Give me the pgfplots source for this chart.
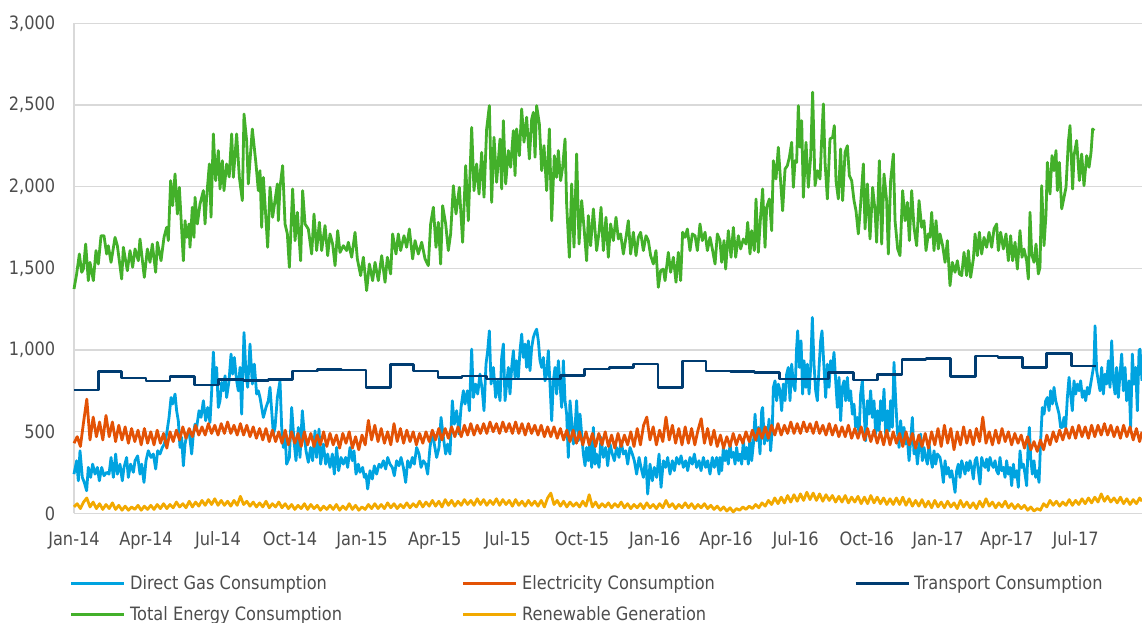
\documentclass[border=0pt]{standalone}
\usepackage{fontspec}
\setmainfont{DejaVu Sans}[FakeStretch=0.88]
\usepackage{pgfplots}
\pgfplotsset{compat=1.18}
\definecolor{gasblue}{HTML}{00A3E0}
\definecolor{elecorange}{HTML}{E35205}
\definecolor{navy}{HTML}{003C71}
\definecolor{totgreen}{HTML}{43B02A}
\definecolor{amber}{HTML}{F2A900}
\definecolor{textgray}{HTML}{4D4D4D}
\definecolor{gridgray}{HTML}{D9D9D9}
\newcommand\chartfont{\fontsize{13.8pt}{16pt}\selectfont}
\newcommand\legtext[1]{\makebox[249pt][l]{\rule[-3.5pt]{0pt}{14pt}#1}}
\begin{document}
\begin{tikzpicture}
\path[use as bounding box] (-55.5pt,-82.125pt) rectangle (801pt,385.125pt);
\begin{axis}[
  at={(0,0)}, anchor=south west,
  scale only axis, width=801pt, height=367.65pt,
  xmin=0, xmax=1335, ymin=0, ymax=3000,
  clip=false,
  axis lines=left,
  axis line style={draw=gridgray, line width=1pt, -},
  ymajorgrids, grid style={draw=gridgray, line width=1pt},
  major tick length=0pt,
  ytick={0,500,1000,1500,2000,2500,3000},
  yticklabels={0,500,{1,000},{1,500},{2,000},{2,500},{3,000}},
  xtick={0,90,180,270,360,451,542,635,726,815,902,991,1080,1166,1252},
  xticklabels={Jan-14,Apr-14,Jul-14,Oct-14,Jan-15,Apr-15,Jul-15,Oct-15,Jan-16,Apr-16,Jul-16,Oct-16,Jan-17,Apr-17,Jul-17},
  every tick label/.append style={font=\chartfont, text=textgray, inner sep=0pt},
  xticklabel style={anchor=north, yshift=-13.6pt},
  yticklabel style={anchor=east, xshift=-13.9pt},
  every axis plot/.append style={line width=2.1pt, line join=round, no markers},
  legend columns=3,
  legend cell align=left,
  legend image code/.code={\draw[#1] (0pt,0pt) -- (39.75pt,0pt);},
  legend style={at={(axis description cs:0,0)}, anchor=north west, xshift=-3pt, yshift=-46.35pt,
    draw=none, fill=none, inner sep=0pt, outer sep=0pt, row sep=11.6pt,
    font=\chartfont, text=textgray, nodes={inner sep=0pt},
    /tikz/every odd column/.append style={column sep=3.2pt}},
]
% Direct Gas Consumption
\addplot[gasblue] coordinates {
(0,241)(3.3,323)(5.4,200)(7.5,384)(10.4,221)(12.9,190)(15.8,139)(17.9,282)(20.8,221)(23.3,302)(26.3,241)(29.2,282)(31.7,200)(34.6,282)(37.5,231)(40.8,252)(43.8,241)(46.3,343)(49.2,221)(52.1,364)(54.2,241)(57.5,302)(60.4,200)(62.5,282)(65.8,343)(67.9,221)(70.8,302)(74.2,252)(76.3,323)(79.6,353)(82.5,241)(84.6,302)(87.5,190)(90,323)(92.9,384)(96.3,343)(99.2,364)(102.1,272)(104.6,384)(107.5,364)(110.4,404)(112.9,425)(115.8,486)(118.8,588)(121.3,710)(123.3,670)(126.3,731)(128.3,629)(130.4,568)(132.5,404)(134.6,466)(136.7,292)(138.8,425)(140.8,476)(143.8,506)(147.1,364)(149.2,486)(151.3,547)(153.3,527)(156.3,629)(158.8,588)(161.7,690)(164.6,568)(167.1,649)(170,557)(172.1,751)(174.2,988)(176.3,792)(178.3,894)(180.4,649)(182.5,690)(184.6,802)(186.7,751)(188.8,843)(190.8,710)(193.8,812)(196.3,976)(198.3,853)(200.4,955)(203.3,812)(205.4,751)(207.5,894)(209.6,608)(212.5,1108)(215,853)(217.1,772)(220,1037)(222.9,792)(225.4,914)(228.3,731)(230.4,751)(232.5,710)(234.6,649)(236.7,588)(240,649)(242.9,690)(245,772)(247.1,629)(249.2,486)(251.3,527)(254.2,710)(257.5,812)
(259.6,527)(261.7,404)(263.8,486)(265.8,302)(269.2,343)(272.1,649)(275,445)(277.5,323)(280.4,527)(282.5,343)(285.4,629)(287.5,506)(290,384)(292.9,313)(295.8,404)(298.3,323)(301.3,506)(303.3,343)(306.3,517)(308.3,302)(311.7,425)(314.6,302)(317.1,364)(320,282)(322.9,364)(325.4,241)(328.3,404)(330.8,262)(333.8,343)(336.7,302)(339.6,343)(342.1,282)(345,404)(347.9,323)(350,384)(352.5,241)(355.4,302)(357.5,252)(360.8,282)(362.9,221)(365,241)(367.1,150)(370,262)(372.9,211)(375.4,292)(378.3,241)(381.3,302)(383.8,282)(386.7,323)(389.6,272)(392.1,343)(395,302)(397.9,282)(400.4,231)(403.3,323)(406.3,292)(408.8,343)(411.7,282)(414.6,190)(417.1,323)(420,282)(422.9,343)(425.4,302)(428.3,404)(431.3,364)(433.8,282)(436.7,323)(439.6,302)(442.1,241)(445,404)(447.9,506)(450.4,425)(453.3,343)(456.3,404)(458.8,588)(461.7,466)(464.6,364)(467.1,425)(470,364)(472.9,690)(475.4,547)(478.3,629)(481.3,486)(483.8,649)(486.7,751)(488.8,670)(491.7,751)(494.2,629)(497.1,1006)(499.2,710)(502.1,792)(504.6,731)(507.5,853)(510.4,751)(512.5,629)(515,914)(517.1,996)(519.2,1118)(521.3,792)(524.2,894)(527.1,710)(529.6,812)(532.5,690)
(534.6,955)(536.7,1037)(538.8,690)(540.8,792)(542.9,894)(545,731)(547.1,894)(549.2,996)(551.3,833)(553.3,935)(555.4,833)(557.5,996)(559.6,1098)(561.7,955)(563.8,1037)(565.8,894)(567.9,1057)(570,874)(572.1,1016)(574.2,1078)(576.3,1108)(578.3,1128)(580.4,1057)(582.5,935)(584.6,894)(586.7,955)(588.8,812)(590.8,853)(592.9,996)(595,792)(597.1,568)(599.2,812)(601.3,894)(603.3,731)(605.4,935)(607.5,792)(609.6,649)(611.7,935)(613.8,690)(615.8,608)(617.9,343)(620,690)(622.1,568)(624.2,425)(626.3,527)(628.3,690)(630.4,445)(632.5,608)(634.6,486)(636.7,364)(638.8,292)(640.8,404)(642.9,323)(645,445)(647.1,282)(649.2,527)(651.3,302)(653.3,364)(656.3,282)(658.8,466)(661.7,343)(664.6,404)(667.1,292)(670,425)(672.9,364)(675.4,323)(678.3,404)(681.3,343)(683.8,445)(686.7,364)(689.6,384)(692.1,302)(695,404)(697.9,364)(700.4,323)(703.3,241)(706.3,343)(708.8,282)(711.7,221)(714.6,343)(717.1,119)(720,302)(722.9,200)(725.4,282)(728.3,221)(731.3,364)(733.8,160)(736.7,323)(739.6,282)(742.1,343)(745,241)(747.9,323)(750.4,262)(753.3,343)(756.3,302)(758.8,353)(761.7,282)(764.6,323)(767.1,262)(770,343)(772.9,302)(775.4,364)(778.3,282)(781.3,323)(783.8,262)(786.7,343)(789.6,282)(792.1,323)(795,241)(797.9,343)(800.4,282)(803.3,343)(806.3,241)
(807.5,343)(809.6,262)(811.7,404)(813.8,323)(815.8,384)(817.9,302)(820,425)(822.1,343)(824.2,374)(826.3,302)(828.3,404)(830.4,323)(832.5,364)(834.6,302)(836.7,445)(838.8,333)(840.8,404)(842.9,302)(845,466)(847.1,323)(849.2,425)(851.3,608)(853.3,445)(855.4,527)(857.5,364)(859.6,629)(860.8,649)(862.9,425)(865,527)(866.7,445)(868.8,578)(870.8,384)(872.9,527)(874.2,772)(876.3,812)(878.3,690)(880.4,792)(882.5,751)(884.6,629)(886.7,792)(888.8,690)(890.8,853)(892.9,894)(895,690)(897.1,914)(899.2,792)(901.3,751)(903.3,1016)(904.6,1118)(906.7,894)(908.8,1057)(910.8,731)(912.5,935)(915,772)(916.7,914)(918.8,731)(920.8,894)(922.9,1200)(925,914)(927.1,751)(929.2,690)(931.3,894)(933.3,1057)(935,1118)(937.5,894)(939.6,710)(941.7,914)(943.8,772)(945.8,935)(947.9,874)(950,986)(952.1,812)(954.2,649)(956.3,833)(958.3,568)(960.4,772)(962.5,812)(964.6,690)(966.7,833)(968.8,690)(970.8,751)(972.9,608)(975,670)(977.1,527)(979.2,588)(981.3,486)(983.3,731)(985.4,812)(987.5,629)(989.6,445)(991.7,690)(993.8,608)(995.8,751)(997.9,588)(1000,690)(1002.1,486)(1004.2,629)(1006.3,506)(1008.3,690)(1010.4,568)(1012.5,761)(1014.6,486)(1016.7,629)(1018.8,506)(1020.8,690)(1022.9,527)(1025,925)(1027.1,690)(1029.2,506)(1031.3,404)(1033.3,568)(1035.4,445)(1037.5,527)(1039.6,425)(1041.7,466)(1043.8,323)(1045.8,445)(1047.9,588)(1050,364)(1052.1,425)(1054.2,302)(1056.3,404)(1058.3,486)(1060.4,323)(1062.5,404)(1064.6,343)(1066.7,302)(1068.8,425)(1070.8,343)(1072.9,282)(1075,384)(1077.1,302)(1079.2,364)
(1082.5,343)(1084.6,282)(1086.7,190)(1088.8,323)(1090.8,241)(1092.9,282)(1095,221)(1097.1,262)(1099.2,200)(1101.3,129)(1103.3,262)(1105.4,302)(1107.5,221)(1109.6,323)(1111.7,282)(1113.8,241)(1115.8,313)(1117.9,262)(1120,323)(1122.1,282)(1124.2,211)(1126.3,323)(1128.3,343)(1130.4,262)(1132.5,180)(1134.6,343)(1136.7,302)(1138.8,282)(1140.8,333)(1142.9,262)(1145,343)(1147.1,302)(1149.2,282)(1151.3,323)(1153.3,262)(1155.4,241)(1157.5,343)(1159.6,262)(1161.7,282)(1163.8,221)(1165.8,323)(1167.9,241)(1170,282)(1172.1,170)(1174.2,302)(1176.3,221)(1178.3,262)(1180.4,160)(1182.5,384)(1184.6,282)(1186.7,302)(1188.8,241)(1190.8,170)(1192.9,445)(1194.2,527)(1195.8,343)(1197.9,241)(1200,323)(1202.1,221)(1204.2,262)(1206.3,190)(1208.3,445)(1210.4,649)(1212.5,608)(1214.6,690)(1216.7,710)(1218.8,629)(1220.8,751)(1222.9,670)(1225,772)(1227.1,690)(1229.2,649)(1231.3,608)(1233.3,527)(1235.4,527)(1237.5,588)(1239.6,527)(1241.7,710)(1243.8,833)(1245.8,731)(1247.9,629)(1250,812)(1252.1,731)(1254.2,792)(1256.3,751)(1258.3,812)(1260.4,710)(1262.5,751)(1264.6,690)(1266.7,772)(1268.8,731)(1270.8,792)(1272.9,853)(1275,914)(1276.3,1149)(1278.3,874)(1280.4,812)(1282.5,751)(1284.6,894)(1286.7,731)(1288.8,853)(1290.8,792)(1292.9,935)(1295,772)(1297.1,1057)(1299.2,812)(1301.3,731)(1303.3,894)(1305.4,710)(1307.5,853)(1309.6,976)(1311.7,751)(1313.8,894)(1315.8,690)(1318.8,812)(1320.8,527)(1322.9,976)(1325,792)(1327.1,894)(1329.2,629)(1331.3,996)(1332.5,1006)(1335,812)
};
\addlegendentry{\legtext{Direct Gas Consumption}}
% Electricity Consumption
\addplot[elecorange] coordinates {
(0,430)(4,470)(8,410)(12,560)(16,700)(20,450)(24,590)(28,470)(32,560)(36,450)(40,600)(44,470)(48,560)(52,440)(56,540)(60,450)(64,530)(68,430)(72,520)(76,440)(80,510)(84,420)(88,520)(92,430)(96,500)(100,420)(104,510)(108,430)(112,490)(116,400)(120,500)(124,440)(128,510)(132,450)(136,530)(140,460)(144,520)(148,470)(152,540)(156,480)(160,530)(164,480)(168,550)(172,490)(176,540)(180,480)(184,550)(188,490)(192,560)(196,490)(200,540)(204,480)(208,550)(212,480)(216,540)(220,470)(224,530)(228,460)(232,520)(236,450)(240,520)(244,440)(248,510)(252,440)(256,500)(260,430)(264,510)(268,420)(272,500)(276,430)(280,490)(284,410)(288,500)(292,420)(296,490)(300,410)(304,480)(308,420)(312,500)(316,410)(320,490)(324,420)(328,480)(332,400)(336,490)(340,430)(344,500)(348,400)(352,470)(356,390)(360,480)(364,420)(368,570)(372,450)(376,540)(380,440)(384,520)(388,430)(392,500)(396,420)(400,550)(404,440)(408,520)(412,430)(416,510)(420,440)(424,500)(428,420)(432,490)(436,430)(440,500)(444,440)(448,510)(452,450)(456,520)(460,450)(464,520)(468,460)(472,530)(476,470)(480,530)(484,470)(488,540)(492,480)(496,550)(500,480)(504,540)(508,490)(512,550)(516,490)(520,560)(524,500)(528,550)(532,490)(536,560)(540,500)(544,550)(548,490)(552,560)(556,490)(560,550)(564,480)(568,550)(572,490)(576,540)(580,480)(584,540)(588,470)(592,530)(596,470)(600,530)(604,460)(608,520)(612,450)(616,510)(620,440)(624,510)(628,430)(632,500)(636,420)(640,500)(644,420)(648,490)(652,410)(656,490)(660,420)(664,500)(668,410)(672,480)(676,400)(680,490)(684,410)(688,480)(692,420)(696,500)(700,410)(704,520)(708,420)(712,540)(716,590)(720,450)(724,530)(728,420)(732,510)(736,440)(740,590)(744,450)(748,540)(752,430)(756,520)(760,420)(764,530)(768,430)(772,520)(776,420)(780,510)(784,580)(788,430)(792,520)(796,420)(800,510)(804,410)(808,480)(812,400)(816,470)(820,410)(824,490)(828,420)(832,480)(836,430)(840,500)(844,440)(848,510)(852,450)(856,520)(860,460)(864,530)(868,460)(872,540)(876,480)(880,550)(884,480)(888,540)(892,490)(896,560)(900,490)(904,550)(908,490)(912,560)(916,500)(920,550)(924,490)(928,560)(932,490)(936,540)(940,480)(944,550)(948,480)(952,540)(956,470)(960,530)(964,470)(968,540)(972,460)(976,520)(980,460)(984,530)(988,450)(992,520)(996,440)(1000,510)(1004,430)(1008,500)(1012,420)(1016,510)(1020,420)(1024,500)(1028,430)(1032,490)(1036,410)(1040,500)(1044,420)(1048,490)(1052,400)(1056,480)(1060,410)(1064,490)(1068,400)(1072,500)(1076,420)(1080,520)(1084,410)(1088,540)(1092,430)(1096,520)(1100,390)(1104,500)(1108,420)(1112,530)(1116,430)(1120,510)(1124,420)(1128,520)(1132,440)(1136,590)(1140,430)(1144,500)(1148,420)(1152,510)(1156,430)(1160,520)(1164,440)(1168,500)(1172,420)(1176,490)(1180,430)(1184,480)(1188,400)(1192,470)(1196,390)(1200,440)(1204,380)(1208,450)(1212,390)(1216,480)(1220,420)(1224,500)(1228,440)(1232,510)(1236,450)(1240,520)(1244,460)(1248,530)(1252,460)(1256,540)(1260,470)(1264,530)(1268,460)(1272,540)(1276,470)(1280,540)(1284,480)(1288,550)(1292,480)(1296,540)(1300,470)(1304,530)(1308,460)(1312,540)(1316,470)(1320,530)(1324,450)(1328,520)(1332,440)(1335,500)
};
\addlegendentry{\legtext{Electricity Consumption}}
% Transport Consumption (monthly)
\addplot[navy, const plot] coordinates {
(0,756)(31,868)(59,829)(90,811)(120,840)(151,786)(181,821)(212,813)(243,821)(273,872)(304,882)(334,878)(365,770)(396,913)(424,872)(455,831)(485,841)(516,823)(546,823)(577,823)(608,846)(638,884)(669,892)(699,915)(730,772)(761,933)(790,872)(821,869)(851,865)(882,823)(912,823)(943,864)(974,817)(1004,850)(1035,943)(1065,950)(1096,837)(1127,964)(1155,956)(1186,892)(1216,980)(1247,903)(1277,903)
};
\addlegendentry{\legtext{Transport Consumption}}
% Total Energy Consumption
\addplot[totgreen] coordinates {
(0,1374)(3.3,1466)(6.7,1588)(9.6,1476)(11.7,1496)(14.6,1649)(17.9,1425)(20,1537)(24.2,1425)(27.5,1609)(30.4,1527)(33.8,1700)(37.5,1700)(40.8,1588)(42.9,1639)(46.3,1537)(51.3,1690)(54.2,1639)(59.6,1435)(61.7,1629)(66.7,1486)(70,1609)(73.3,1507)(76.3,1619)(80.4,1547)(82.5,1680)(87.9,1445)(91.7,1619)(95,1537)(97.9,1649)(102.1,1476)(104.2,1660)(108.8,1547)(112.5,1690)(115.8,1751)(117.9,1670)(120.8,2037)(123.3,1884)(126.3,2078)(129.2,1833)(131.7,1996)(136.7,1547)(138.8,1792)(140.8,1690)(143.8,1772)(145,1629)(147.9,1874)(150,1690)(151.3,1935)(154.2,1772)(157.5,1894)(161.7,1976)(163.8,1772)(165.8,1935)(169.2,2139)(171.3,1813)(174.2,2323)(177.1,2037)(180.4,2221)(182.5,1986)(185.4,2159)(187.5,1976)(190.8,2139)(194,2060)(197.1,2323)(199.2,2057)(203.3,2323)(206.7,2057)(210.4,1915)(212.5,2445)(215.8,2282)(217.9,2017)(222.9,2353)(227.5,2139)(230.4,1976)(232.5,2098)(234.6,1751)(236.7,2057)(242.1,1629)(245,1996)(248.3,1813)(254.2,2017)(255.4,1792)
(257.5,1996)(260.8,2129)(263.8,1772)(266.7,1711)(269.2,1507)(273.3,1986)(276.3,1670)(279.2,1843)(283.3,1547)(285.8,1976)(288.8,1772)(292.9,1741)(297.1,1588)(300,1833)(303.3,1609)(306.7,1782)(309.6,1609)(313.8,1762)(317.1,1578)(320,1711)(323.3,1649)(326.3,1517)(329.6,1731)(332.5,1598)(336.7,1639)(340.8,1609)(342.9,1660)(347.1,1568)(351.3,1721)(354.2,1558)(358.3,1456)(361.7,1568)(365.8,1364)(369.2,1527)(373.3,1425)(376.3,1537)(380.4,1425)(384.6,1578)(388.8,1415)(391.7,1568)(395.8,1466)(398.3,1711)(402.5,1588)(405.4,1711)(408.3,1609)(412.5,1700)(415.8,1629)(419.2,1741)(423.3,1558)(426.3,1670)(430.4,1588)(434.6,1660)(438.8,1558)(442.9,1517)(445.8,1772)(449.2,1874)(452.5,1629)(455.4,1782)(458.3,1527)(460.8,1884)(464.6,1772)(467.9,1609)(470.8,1711)(474.2,2006)(477.5,1833)(481.7,1996)(485.8,1660)(489.6,2129)(492.9,1792)(497.1,2363)(500,1976)(503.3,2139)(506.3,1955)(509.6,2210)(512.5,1935)(515.8,2353)(519.2,2496)(522.1,1904)(525,2302)(528.3,2027)(532.5,2292)
(534.6,1986)(536.7,2404)(539.6,2017)(542.9,2221)(545.8,2119)(549.2,2343)(551.3,2068)(553.3,2353)(556.7,2190)(559.6,2476)(562.5,2272)(565.8,2425)(569.2,2170)(572.1,2414)(574.2,2455)(576.3,2180)(578.3,2496)(581.7,2384)(584.6,2098)(587.5,2251)(590.8,1976)(594.2,2353)(597.1,1792)(600.4,2190)(603.3,2057)(605.4,2221)(608.3,2037)(610.8,2119)(613.8,2292)(615.8,1894)(619.2,1568)(622.1,2017)(625,1629)(628.3,2200)(631.3,1649)(634.6,1915)(637.5,1751)(640.8,1547)(642.9,1823)(645.8,1639)(649.2,1864)(653.3,1609)(656.3,1721)(658.8,1874)(661.7,1609)(665,1813)(667.9,1568)(670.8,1772)(674.2,1670)(677.5,1813)(680.4,1680)(683.3,1711)(686.7,1588)(690,1690)(692.9,1792)(695.8,1588)(699.2,1721)(702.5,1578)(705.4,1690)(708.3,1721)(711.7,1609)(715,1700)(717.9,1670)(720.8,1578)(724.2,1527)(727.5,1609)(730.4,1384)(733.3,1486)(736.7,1496)(738.8,1425)(742.9,1598)(745.8,1476)(749.2,1568)(752.5,1415)(755.4,1598)(758.3,1425)(760.8,1721)(763.8,1690)(766.7,1741)(770,1609)(772.9,1711)(776.3,1700)(779.2,1609)(782.5,1772)(785.4,1670)(788.8,1721)(791.7,1609)(795,1690)(797.9,1619)(801.3,1527)(804.2,1711)(807.5,1670)
(809.6,1537)(812.5,1670)(814.6,1496)(817.9,1731)(821.3,1568)(824.2,1751)(827.1,1568)(830.4,1700)(833.3,1619)(836.7,1680)(840,1649)(842.1,1782)(845,1588)(847.1,1731)(850.4,1609)(852.5,1925)(855.4,1598)(858.3,1823)(860.8,1986)(863.8,1629)(865.8,1874)(869.2,1925)(872.1,1731)(874.2,2159)(877.5,2047)(880.4,2241)(882.5,2088)(885.8,1853)(888.8,2108)(891.7,2129)(894.2,2180)(897.1,2272)(899.2,1996)(901.3,2159)(903.3,2149)(905.4,2496)(907.5,2241)(909.6,2404)(911.7,1935)(915,2272)(917.9,1996)(920.8,2180)(923.3,2578)(926.3,2006)(929.2,2098)(932.5,2047)(934.6,2292)(936.7,2506)(938.8,2149)(941.7,1925)(945,2292)(948.3,2302)(950.4,2374)(952.5,2037)(955.4,1925)(958.3,2231)(960.8,1915)(963.8,2210)(966.7,2251)(969.2,2068)(972.1,2037)(975,1915)(977.5,1853)(980.4,1711)(983.3,1894)(986.7,2139)(988.8,1741)(991.7,2017)(995,1680)(998.3,1996)(1001.3,1853)(1003.3,1660)(1006.7,2159)(1009.6,1649)(1012.5,2078)(1015.8,1915)(1017.9,1588)(1020.8,2037)(1024.2,2200)(1026.3,1792)(1029.6,1619)(1032.5,1578)(1035.8,1976)(1038.8,1792)(1041.7,1904)(1044.2,1670)(1047.1,1976)(1050,1751)(1053.3,1639)(1056.3,1915)(1059.6,1751)(1062.5,1792)(1065,1609)(1067.9,1711)(1070,1690)(1072.1,1843)(1075,1609)(1077.5,1792)(1080.4,1619)(1082.5,1711)
(1085.8,1639)(1088.8,1537)(1091.7,1670)(1095,1394)(1097.9,1537)(1101.3,1476)(1104.2,1547)(1106.7,1466)(1109.6,1456)(1112.5,1598)(1115.8,1456)(1117.9,1609)(1120.8,1445)(1124.2,1558)(1126.3,1711)(1129.2,1578)(1131.7,1721)(1134.6,1588)(1137.5,1690)(1140.8,1629)(1143.8,1721)(1147.1,1629)(1150,1741)(1153.3,1772)(1155.4,1609)(1158.3,1721)(1161.7,1619)(1165,1711)(1167.9,1547)(1170.8,1700)(1173.3,1547)(1176.3,1660)(1179.2,1496)(1182.5,1731)(1185,1568)(1187.5,1619)(1190.8,1547)(1192.9,1435)(1195,1843)(1197.1,1588)(1200,1537)(1202.5,1649)(1205.4,1466)(1207.5,1507)(1209.6,2006)(1212.5,1639)(1215,1833)(1216.7,2149)(1220,1955)(1222.5,2190)(1225,2098)(1227.5,2221)(1229.2,1976)(1231.7,2149)(1234.6,1864)(1237.5,1935)(1240,1996)(1242.9,2272)(1245,2374)(1248.3,1986)(1250,2190)(1253.3,2282)(1256.7,2037)(1259.6,2200)(1262.5,2006)(1265.8,2190)(1268.8,2119)(1271.3,2210)(1273.3,2353)(1275.4,2343)
};
\addlegendentry{\legtext{Total Energy Consumption}}
% Renewable Generation
\addplot[amber] coordinates {
(0,40)(4,60)(8,30)(12,70)(16,95)(20,40)(24,70)(28,30)(32,60)(36,25)(40,55)(44,30)(48,65)(52,25)(56,50)(60,20)(64,45)(68,20)(72,40)(76,25)(80,50)(84,20)(88,45)(92,25)(96,50)(100,25)(104,55)(108,30)(112,60)(116,30)(120,55)(124,35)(128,70)(132,40)(136,60)(140,35)(144,75)(148,40)(152,70)(156,45)(160,80)(164,50)(168,85)(172,55)(176,90)(180,50)(184,80)(188,50)(192,75)(196,45)(200,80)(204,50)(208,105)(212,55)(216,75)(220,45)(224,70)(228,40)(232,65)(236,40)(240,75)(244,35)(248,60)(252,40)(256,70)(260,35)(264,60)(268,30)(272,55)(276,25)(280,50)(284,30)(288,60)(292,25)(296,55)(300,30)(304,50)(308,20)(312,45)(316,25)(320,50)(324,25)(328,55)(332,20)(336,45)(340,25)(344,60)(348,25)(352,50)(356,20)(360,40)(364,25)(368,55)(372,30)(376,60)(380,30)(384,55)(388,30)(392,65)(396,35)(400,60)(404,30)(408,55)(412,35)(416,65)(420,35)(424,60)(428,40)(432,75)(436,40)(440,70)(444,45)(448,80)(452,45)(456,75)(460,40)(464,85)(468,50)(472,80)(476,45)(480,75)(484,50)(488,85)(492,55)(496,80)(500,50)(504,90)(508,55)(512,85)(516,50)(520,80)(524,55)(528,90)(532,50)(536,85)(540,55)(544,80)(548,45)(552,85)(556,50)(560,75)(564,45)(568,80)(572,50)(576,75)(580,45)(584,80)(588,40)(592,95)(596,125)(600,55)(604,80)(608,45)(612,75)(616,40)(620,70)(624,45)(628,65)(632,40)(636,75)(640,45)(644,115)(648,40)(652,70)(656,35)(660,60)(664,40)(668,65)(672,35)(676,60)(680,40)(684,70)(688,35)(692,60)(696,30)(700,55)(704,35)(708,60)(712,30)(716,65)(720,35)(724,55)(728,30)(732,60)(736,35)(740,80)(744,40)(748,60)(752,30)(756,55)(760,35)(764,65)(768,35)(772,60)(776,30)(780,55)(784,35)(788,60)(792,30)(796,50)(800,25)(804,45)(808,20)(812,40)(816,15)(820,35)(824,10)(828,30)(832,20)(836,40)(840,25)(844,45)(848,30)(852,55)(856,35)(860,65)(864,45)(868,80)(872,55)(876,95)(880,60)(884,100)(888,65)(892,110)(896,70)(900,115)(904,75)(908,120)(912,80)(916,130)(920,85)(924,125)(928,80)(932,120)(936,75)(940,115)(944,80)(948,110)(952,70)(956,105)(960,70)(964,110)(968,65)(972,100)(976,70)(980,105)(984,60)(988,100)(992,60)(996,110)(1000,65)(1004,100)(1008,60)(1012,95)(1016,55)(1020,90)(1024,55)(1028,95)(1032,55)(1036,100)(1040,50)(1044,90)(1048,45)(1052,80)(1056,45)(1060,85)(1064,40)(1068,75)(1072,35)(1076,80)(1080,40)(1084,70)(1088,35)(1092,75)(1096,40)(1100,65)(1104,30)(1108,80)(1112,40)(1116,70)(1120,35)(1124,65)(1128,30)(1132,75)(1136,40)(1140,90)(1144,45)(1148,70)(1152,35)(1156,65)(1160,40)(1164,75)(1168,35)(1172,60)(1176,30)(1180,55)(1184,30)(1188,50)(1192,20)(1196,40)(1200,15)(1204,30)(1208,20)(1212,60)(1216,40)(1220,80)(1224,50)(1228,75)(1232,45)(1236,70)(1240,50)(1244,85)(1248,50)(1252,80)(1256,55)(1260,90)(1264,60)(1268,95)(1272,65)(1276,100)(1280,70)(1284,120)(1288,75)(1292,105)(1296,70)(1300,95)(1304,65)(1308,100)(1312,60)(1316,90)(1320,55)(1324,85)(1328,60)(1332,95)(1335,75)
};
\addlegendentry{\legtext{Renewable Generation}}
\end{axis}
\end{tikzpicture}
\end{document}
